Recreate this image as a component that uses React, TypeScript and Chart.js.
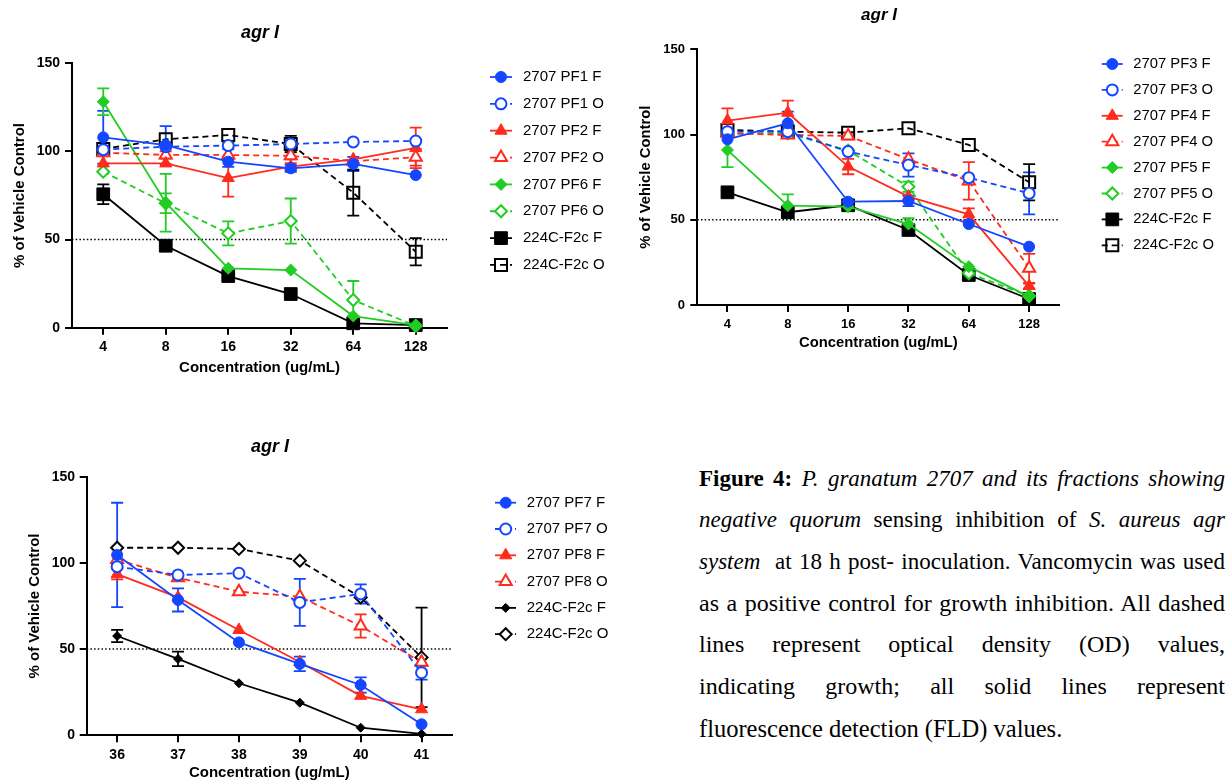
import React, { useEffect, useRef } from 'react';
import { Chart, registerables } from 'chart.js';
import { drawPoint } from 'chart.js/helpers';

Chart.register(...registerables);

const SANS = "'Liberation Sans', Arial, Helvetica, sans-serif";
const SERIF = "'Liberation Serif', 'Times New Roman', serif";

const BLUE = '#1446FF';
const RED = '#FF2B1C';
const GREEN = '#22CC22';
const BLACK = '#000000';

const THRESHOLD = 50;
const Y_MIN = 0;
const Y_MAX = 150;
const Y_STEP = 50;
const TITLE_TEXT = 'agr I';
const Y_TITLE = '% of Vehicle Control';
const X_TITLE = 'Concentration (ug/mL)';

// ---------- Chart A (top left) ----------
const A_CONC = ['4', '8', '16', '32', '64', '128'];
const A_PF1_F = [108, 103.6, 94.2, 90.4, 92.9, 86.6];
const A_PF1_F_ERR = [15, 10.8, 3, 2, 4, 0];
const A_PF1_O = [101, 102.7, 103.3, 104.2, 105.4, 105.9];
const A_PF1_O_ERR = [0, 0, 2, 0, 0, 0];
const A_PF2_F = [93.2, 93.2, 84.9, 91.4, 95.5, 102];
const A_PF2_F_ERR = [0, 0, 10.5, 2, 0, 11.5];
const A_PF2_O = [99.3, 98, 98, 97.5, 94.5, 96.7];
const A_PF2_O_ERR = [2, 2, 0, 2, 0, 4.8];
const A_PF6_F = [128.2, 70.9, 33.7, 32.7, 6.6, 1.5];
const A_PF6_F_ERR = [7.6, 16.4, 0, 0, 0, 0];
const A_PF6_O = [88.5, 70.6, 53.5, 60.5, 15.7, 1];
const A_PF6_O_ERR = [0, 5.6, 6.8, 12.8, 10.8, 0];
const A_224_F = [75.7, 46.5, 29.3, 19.1, 2.5, 1.5];
const A_224_F_ERR = [5.6, 0, 0, 0, 0, 0];
const A_224_O = [101.4, 106.9, 109.3, 104.2, 76.6, 43.1];
const A_224_O_ERR = [0, 0, 0, 4.6, 13, 7.7];

// ---------- Chart B (top right) ----------
const B_CONC = ['4', '8', '16', '32', '64', '128'];
const B_PF3_F = [97.2, 106.6, 60.6, 61, 47.5, 34.2];
const B_PF3_F_ERR = [0, 6.8, 0, 3, 0, 0];
const B_PF3_O = [101.7, 101.7, 90, 82.1, 74.7, 65.5];
const B_PF3_O_ERR = [0, 0, 0, 6.8, 0, 12.3];
const B_PF4_F = [108.2, 112.8, 81.2, 63.6, 53.2, 11.1];
const B_PF4_F_ERR = [7.2, 7.1, 4.5, 0, 3.5, 1.5];
const B_PF4_O = [100.7, 99.7, 99.2, 85.5, 72.8, 21.5];
const B_PF4_O_ERR = [0, 0, 2, 0, 11, 8.5];
const B_PF5_F = [90.9, 58.3, 57.7, 47.5, 22.5, 4.9];
const B_PF5_F_ERR = [10, 6.6, 0, 3.4, 0, 0];
const B_PF5_O = [100.7, 100.7, 90.6, 69.4, 18.6, 5.3];
const B_PF5_O_ERR = [0, 0, 0, 3, 0, 0];
const B_224_F = [66.1, 54.4, 58.5, 44, 17.6, 3.5];
const B_224_F_ERR = [0, 2, 0, 0, 0, 0];
const B_224_O = [102.7, 101.7, 101.1, 103.7, 93.9, 72];
const B_224_O_ERR = [0, 0, 0, 0, 0, 10.6];

// ---------- Chart C (bottom left) ----------
const C_CONC = ['36', '37', '38', '39', '40', '41'];
const C_PF7_F = [104.6, 78.5, 53.9, 41.4, 29.2, 6.4];
const C_PF7_F_ERR = [30.3, 6.7, 0, 4.2, 4.4, 0];
const C_PF7_O = [97.8, 93, 94, 77.1, 82, 36.3];
const C_PF7_O_ERR = [0, 0, 0, 13.6, 5.6, 4];
const C_PF8_F = [93.5, 80, 61.1, 42.5, 22.9, 15.1];
const C_PF8_F_ERR = [3, 0, 0, 0, 0, 0];
const C_PF8_O = [102, 91.4, 83.3, 80.4, 63.4, 42.3];
const C_PF8_O_ERR = [0, 0, 0, 0, 6.7, 0];
const C_224_F = [57.6, 44.3, 30.2, 18.9, 4.4, 0.8];
const C_224_F_ERR = [3.6, 4.2, 0, 0, 0, 0];
const C_224_O = [108.8, 108.8, 108.1, 101.3, 80, 45.2];
const C_224_O_ERR = [0, 0, 0, 0, 0, 28.8];

type Series = {
  label: string;
  data: number[];
  err: number[];
  color: string;
  open: boolean;
  style: string;
  radius: number;
};

function S(label: string, data: number[], err: number[], color: string, open: boolean, style: string, radius: number): Series {
  return { label, data, err, color, open, style, radius };
}

const SERIES_A: Series[] = [
  S('2707 PF1 F', A_PF1_F, A_PF1_F_ERR, BLUE, false, 'circle', 5.5),
  S('2707 PF1 O', A_PF1_O, A_PF1_O_ERR, BLUE, true, 'circle', 5.5),
  S('2707 PF2 F', A_PF2_F, A_PF2_F_ERR, RED, false, 'triangle', 7),
  S('2707 PF2 O', A_PF2_O, A_PF2_O_ERR, RED, true, 'triangle', 7),
  S('2707 PF6 F', A_PF6_F, A_PF6_F_ERR, GREEN, false, 'rectRot', 6),
  S('2707 PF6 O', A_PF6_O, A_PF6_O_ERR, GREEN, true, 'rectRot', 6),
  S('224C-F2c F', A_224_F, A_224_F_ERR, BLACK, false, 'rect', 9),
  S('224C-F2c O', A_224_O, A_224_O_ERR, BLACK, true, 'rect', 8.5),
];

const SERIES_B: Series[] = [
  S('2707 PF3 F', B_PF3_F, B_PF3_F_ERR, BLUE, false, 'circle', 5.5),
  S('2707 PF3 O', B_PF3_O, B_PF3_O_ERR, BLUE, true, 'circle', 5.5),
  S('2707 PF4 F', B_PF4_F, B_PF4_F_ERR, RED, false, 'triangle', 7),
  S('2707 PF4 O', B_PF4_O, B_PF4_O_ERR, RED, true, 'triangle', 7),
  S('2707 PF5 F', B_PF5_F, B_PF5_F_ERR, GREEN, false, 'rectRot', 6),
  S('2707 PF5 O', B_PF5_O, B_PF5_O_ERR, GREEN, true, 'rectRot', 6),
  S('224C-F2c F', B_224_F, B_224_F_ERR, BLACK, false, 'rect', 9),
  S('224C-F2c O', B_224_O, B_224_O_ERR, BLACK, true, 'rect', 8.5),
];

const SERIES_C: Series[] = [
  S('2707 PF7 F', C_PF7_F, C_PF7_F_ERR, BLUE, false, 'circle', 5.5),
  S('2707 PF7 O', C_PF7_O, C_PF7_O_ERR, BLUE, true, 'circle', 5.5),
  S('2707 PF8 F', C_PF8_F, C_PF8_F_ERR, RED, false, 'triangle', 7),
  S('2707 PF8 O', C_PF8_O, C_PF8_O_ERR, RED, true, 'triangle', 7),
  S('224C-F2c F', C_224_F, C_224_F_ERR, BLACK, false, 'rectRot', 4.5),
  S('224C-F2c O', C_224_O, C_224_O_ERR, BLACK, true, 'rectRot', 6),
];

// ---------- plugins ----------
const thresholdPlugin = {
  id: 'threshold',
  beforeDatasetsDraw(chart: any) {
    const { ctx, chartArea } = chart;
    const y = chart.scales.y.getPixelForValue(THRESHOLD);
    ctx.save();
    ctx.strokeStyle = '#000';
    ctx.lineWidth = 1.5;
    ctx.setLineDash([1.5, 2.2]);
    ctx.beginPath();
    ctx.moveTo(chartArea.left, y);
    ctx.lineTo(chartArea.right, y);
    ctx.stroke();
    ctx.restore();
  },
};

const errorBarPlugin = {
  id: 'errorBars',
  beforeDatasetsDraw(chart: any) {
    const ctx = chart.ctx;
    const ys = chart.scales.y;
    chart.data.datasets.forEach((ds: any, i: number) => {
      const errs: number[] = ds.errors;
      if (!errs) return;
      const meta = chart.getDatasetMeta(i);
      ctx.save();
      ctx.strokeStyle = ds.borderColor;
      ctx.lineWidth = 1.8;
      ctx.setLineDash([]);
      meta.data.forEach((pt: any, j: number) => {
        const e = errs[j];
        if (!e) return;
        const v = ds.data[j];
        const top = ys.getPixelForValue(v + e);
        const bot = ys.getPixelForValue(Math.max(v - e, 0));
        const x = pt.x;
        const cap = 6;
        ctx.beginPath();
        ctx.moveTo(x, top);
        ctx.lineTo(x, bot);
        ctx.moveTo(x - cap, top);
        ctx.lineTo(x + cap, top);
        ctx.moveTo(x - cap, bot);
        ctx.lineTo(x + cap, bot);
        ctx.stroke();
      });
      ctx.restore();
    });
  },
};

const figLegendPlugin = {
  id: 'figLegend',
  afterDraw(chart: any, _args: any, opts: any) {
    const ctx = chart.ctx;
    ctx.save();
    ctx.fillStyle = '#000';
    ctx.font = `italic bold ${opts.titleSize}px ${SANS}`;
    ctx.textAlign = 'center';
    ctx.textBaseline = 'middle';
    ctx.fillText(opts.title, opts.titleX, opts.titleY);
    ctx.restore();
    chart.data.datasets.forEach((ds: any, i: number) => {
      const y = opts.y0 + i * opts.dy;
      ctx.save();
      ctx.strokeStyle = ds.borderColor;
      ctx.lineWidth = ds.borderWidth;
      ctx.setLineDash(ds.borderDash || []);
      ctx.beginPath();
      ctx.moveTo(opts.x0, y);
      ctx.lineTo(opts.x1, y);
      ctx.stroke();
      ctx.setLineDash([]);
      ctx.fillStyle = ds.pointBackgroundColor;
      ctx.strokeStyle = ds.pointBorderColor;
      ctx.lineWidth = ds.pointBorderWidth;
      drawPoint(ctx, { pointStyle: ds.pointStyle, rotation: 0, radius: ds.pointRadius, borderWidth: ds.pointBorderWidth } as any, opts.mx, y);
      ctx.fillStyle = '#000';
      ctx.font = `${opts.fontSize}px ${SANS}`;
      ctx.textAlign = 'left';
      ctx.textBaseline = 'middle';
      ctx.fillText(ds.label, opts.tx, y);
      ctx.restore();
    });
  },
};

type Geo = {
  L: number; T: number; W: number; H: number;
  aL: number; aT: number; aR: number; aB: number;
  yTitleX: number; xTitleY: number;
  tickSize: number; axisTitleSize: number;
  xTickPad: number; yTickPad: number;
  titleX: number; titleY: number; titleSize: number;
  lx0: number; lx1: number; lmx: number; ltx: number; ly0: number; ldy: number; lfont: number;
};

function buildConfig(g: Geo, cats: string[], series: Series[]): any {
  const yW = g.aL - g.L;
  const tlh = g.axisTitleSize * 1.2;
  const xH = g.xTitleY - g.aB + tlh / 2;
  const padBottom = g.T + g.H - g.aB - xH;
  const tickFont = { family: SANS, size: g.tickSize, weight: 'bold' as const };
  const titleFont = { family: SANS, size: g.axisTitleSize, weight: 'bold' as const };
  const datasets = series.map((s) => ({
    label: s.label,
    data: s.data,
    errors: s.err,
    borderColor: s.color,
    backgroundColor: s.color,
    borderWidth: 1.8,
    borderDash: s.open ? [6, 4] : [],
    pointStyle: s.style,
    pointRadius: s.radius,
    pointHoverRadius: s.radius,
    pointBorderWidth: s.open ? 2 : 1,
    pointBackgroundColor: s.open ? (s.style === 'rect' ? 'rgba(255,255,255,0)' : '#ffffff') : s.color,
    pointBorderColor: s.color,
    tension: 0,
    fill: false,
    clip: false,
  }));
  return {
    type: 'line',
    data: { labels: cats, datasets },
    plugins: [thresholdPlugin, errorBarPlugin, figLegendPlugin],
    options: {
      responsive: false,
      maintainAspectRatio: false,
      animation: false,
      events: [],
      layout: {
        padding: { left: 0, top: g.aT - g.T, right: g.L + g.W - g.aR, bottom: padBottom },
      },
      plugins: {
        legend: { display: false },
        tooltip: { enabled: false },
        title: { display: false },
        figLegend: {
          title: TITLE_TEXT,
          titleX: g.titleX - g.L, titleY: g.titleY - g.T, titleSize: g.titleSize,
          x0: g.lx0 - g.L, x1: g.lx1 - g.L, mx: g.lmx - g.L, tx: g.ltx - g.L,
          y0: g.ly0 - g.T, dy: g.ldy, fontSize: g.lfont,
        },
      },
      scales: {
        x: {
          type: 'category',
          offset: true,
          ticks: { font: tickFont, color: '#000', padding: g.xTickPad, maxRotation: 0, autoSkip: false },
          grid: { display: true, drawOnChartArea: false, drawTicks: true, tickLength: 7, color: '#000', lineWidth: 2, offset: false },
          border: { display: true, color: '#000', width: 2 },
          title: { display: true, text: X_TITLE, font: titleFont, color: '#000', padding: { top: 0, bottom: 0 } },
          afterFit: (s: any) => { s.height = xH; },
        },
        y: {
          type: 'linear',
          min: Y_MIN,
          max: Y_MAX,
          ticks: { stepSize: Y_STEP, font: tickFont, color: '#000', padding: g.yTickPad },
          grid: { display: true, drawOnChartArea: false, drawTicks: true, tickLength: 7, color: '#000', lineWidth: 2 },
          border: { display: true, color: '#000', width: 2 },
          title: { display: true, text: Y_TITLE, font: titleFont, color: '#000', padding: { top: g.yTitleX - g.L - tlh / 2, bottom: 0 } },
          afterFit: (s: any) => { s.width = yW; },
        },
      },
    },
  };
}

const GEO_A: Geo = {
  L: 0, T: 0, W: 620, H: 392,
  aL: 72, aT: 63.3, aR: 447, aB: 327.7,
  yTitleX: 20, xTitleY: 368,
  tickSize: 14, axisTitleSize: 15,
  xTickPad: 3.6, yTickPad: 5,
  titleX: 260, titleY: 33, titleSize: 18,
  lx0: 490, lx1: 512, lmx: 501, ltx: 523, ly0: 77, ldy: 26.85, lfont: 15,
};

const GEO_B: Geo = {
  L: 622, T: 0, W: 605, H: 362,
  aL: 697.3, aT: 49.3, aR: 1059.3, aB: 305,
  yTitleX: 646, xTitleY: 343,
  tickSize: 13, axisTitleSize: 14.8,
  xTickPad: 4.2, yTickPad: 5.3,
  titleX: 879, titleY: 15, titleSize: 17,
  lx0: 1101.7, lx1: 1122.7, lmx: 1112.3, ltx: 1133.3, ly0: 64, ldy: 25.9, lfont: 14.8,
};

const GEO_C: Geo = {
  L: 0, T: 430, W: 660, H: 354,
  aL: 86.7, aT: 476.7, aR: 452, aB: 735.3,
  yTitleX: 35, xTitleY: 773.3,
  tickSize: 14, axisTitleSize: 15,
  xTickPad: 4.3, yTickPad: 4.7,
  titleX: 270, titleY: 447, titleSize: 18,
  lx0: 495, lx1: 516, lmx: 505.7, ltx: 526.7, ly0: 502.7, ldy: 26.3, lfont: 15,
};

function ChartBox({ geo, cats, series }: { geo: Geo; cats: string[]; series: Series[] }) {
  const ref = useRef<HTMLCanvasElement>(null);
  useEffect(() => {
    const chart = new Chart(ref.current as HTMLCanvasElement, buildConfig(geo, cats, series));
    return () => chart.destroy();
  }, []);
  return (
    <canvas
      ref={ref}
      width={geo.W}
      height={geo.H}
      style={{ position: 'absolute', left: geo.L, top: geo.T, width: geo.W, height: geo.H }}
    />
  );
}

const J: React.CSSProperties = { textAlign: 'justify', textAlignLast: 'justify' as any };
const J24: React.CSSProperties = { ...J, fontSize: 24 };

function Caption() {
  return (
    <div
      style={{
        position: 'absolute',
        left: 699,
        top: 457.5,
        width: 526,
        fontFamily: SERIF,
        fontSize: 23,
        lineHeight: '41.7px',
        color: '#000',
      }}
    >
      <div style={J}><b>Figure 4:</b> <i>P. granatum 2707 and its fractions showing</i></div>
      <div style={J}><i>negative quorum</i> sensing inhibition of <i>S. aureus agr</i></div>
      <div style={J}><i>system</i>&nbsp; at 18 h post- inoculation. Vancomycin was used</div>
      <div style={J24}>as a positive control for growth inhibition. All dashed</div>
      <div style={J24}>lines represent optical density (OD) values,</div>
      <div style={J24}>indicating growth; all solid lines represent</div>
      <div style={{ fontSize: 24.5 }}>fluorescence detection (FLD) values.</div>
    </div>
  );
}

export default function App() {
  return (
    <div style={{ position: 'absolute', left: 0, top: 0, width: 1227, height: 784, overflow: 'hidden', background: '#fff' }}>
      <ChartBox geo={GEO_A} cats={A_CONC} series={SERIES_A} />
      <ChartBox geo={GEO_B} cats={B_CONC} series={SERIES_B} />
      <ChartBox geo={GEO_C} cats={C_CONC} series={SERIES_C} />
      <Caption />
    </div>
  );
}
